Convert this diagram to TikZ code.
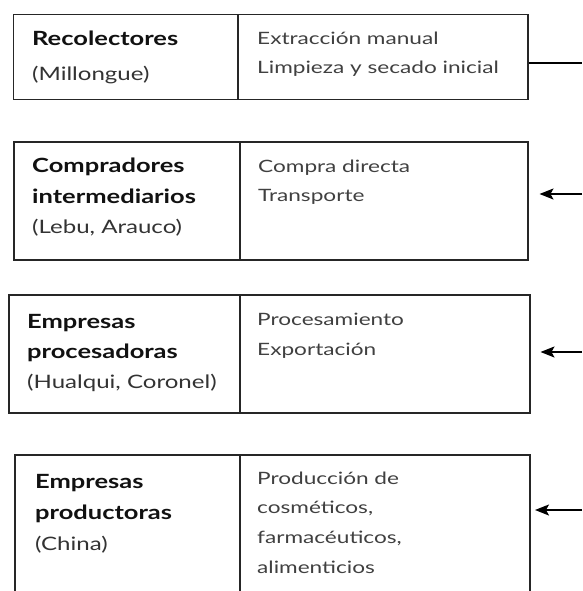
\documentclass[tikz,border=0pt]{standalone}
\usepackage{fontspec}
\setmainfont{Lato}
\newfontfamily\widefont[FakeStretch=1.3]{Lato}
\newfontfamily\rwidefont[FakeStretch=1.33]{Lato}
\usetikzlibrary{arrows.meta}
\definecolor{linec}{HTML}{262626}
\definecolor{boldc}{HTML}{111111}
\definecolor{regc}{HTML}{333333}
\definecolor{rtc}{HTML}{404040}
\tikzset{
  cell/.style={draw=linec, line width=1.5pt, inner sep=0pt, anchor=north west},
  lb/.style={anchor=base west, inner sep=0pt, text=boldc, font=\widefont\bfseries\fontsize{19.6}{22}\selectfont},
  lr/.style={anchor=base west, inner sep=0pt, text=regc, font=\widefont\fontsize{18.5}{22}\selectfont},
  rt/.style={anchor=base west, inner sep=0pt, text=rtc, font=\rwidefont\fontsize{17}{20}\selectfont},
  conn/.style={draw=black, line width=1.4pt},
  arr/.style={conn, -{Stealth[length=14pt, width=11pt, inset=3pt]}}
}
\begin{document}
\begin{tikzpicture}[x=1pt, y=-1pt]
\clip (0,0) rectangle (582,591);
\fill[white] (0,0) rectangle (582,591);
% box 1
\node[cell, minimum width=224.5pt, minimum height=85pt] (b1l) at (12.5,14) {};
\node[cell, minimum width=290pt, minimum height=85pt] (b1r) at (237,14) {};
% box 2
\node[cell, minimum width=226pt, minimum height=118pt] (b2l) at (13,141) {};
\node[cell, minimum width=288pt, minimum height=118pt] (b2r) at (239,141) {};
% box 3
\node[cell, minimum width=231pt, minimum height=118pt] (b3l) at (8,294) {};
\node[cell, minimum width=290pt, minimum height=118pt] (b3r) at (239,294) {};
% box 4
\node[cell, minimum width=225pt, minimum height=170pt] (b4l) at (14,454) {};
\node[cell, minimum width=290pt, minimum height=170pt] (b4r) at (239,454) {};
% texts box 1
\node[lb] (t1a) at (32,46) {Recolectores};
\node[lr] (t1b) at (32,81) {(Millongue)};
\node[rt] (r1a) at (257,45) {Extracción manual};
\node[rt] (r1b) at (257,74) {Limpieza y secado inicial};
% texts box 2
\node[lb] (t2a) at (32,172) {Compradores};
\node[lb] (t2b) at (32,203) {intermediarios};
\node[lr] (t2c) at (32,233) {(Lebu, Arauco)};
\node[rt] (r2a) at (258,172) {Compra directa};
\node[rt] (r2b) at (258,201) {Transporte};
% texts box 3
\node[lb] (t3a) at (27,328) {Empresas};
\node[lb] (t3b) at (27,358) {procesadoras};
\node[lr] (t3c) at (27,388) {(Hualqui, Coronel)};
\node[rt] (r3a) at (257,325) {Procesamiento};
\node[rt] (r3b) at (257,355) {Exportación};
% texts box 4
\node[lb] (t4a) at (35,488) {Empresas};
\node[lb] (t4b) at (35,519) {productoras};
\node[lr] (t4c) at (35,550) {(China)};
\node[rt] (r4a) at (257,484) {Producción de};
\node[rt] (r4b) at (257,513) {cosméticos,};
\node[rt] (r4c) at (257,543) {farmacéuticos,};
\node[rt] (r4d) at (257,573) {alimenticios};
% connectors
\coordinate (e1) at (582,63);
\coordinate (e2) at (582,194);
\coordinate (e3) at (582,352);
\coordinate (e4) at (582,510);
\draw[conn] (e1 -| b1r.east) -- (e1);
\draw[arr] (e2) -- ([xshift=11pt]e2 -| b2r.east);
\draw[arr] (e3) -- ([xshift=10pt]e3 -| b3r.east);
\draw[arr] (e4) -- ([xshift=4.5pt]e4 -| b4r.east);
\end{tikzpicture}
\end{document}
